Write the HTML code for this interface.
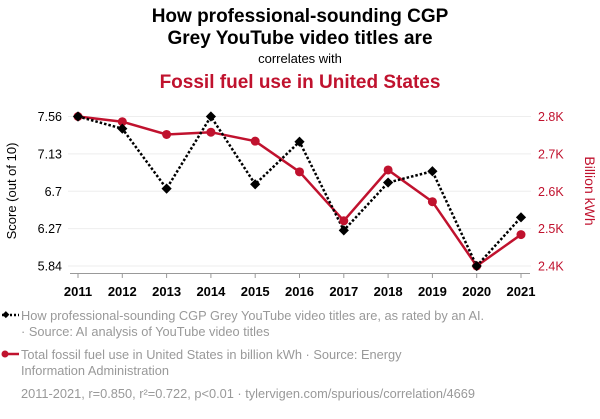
<!DOCTYPE html>
<html><head><meta charset="utf-8"><style>
body{margin:0;background:#fff;width:600px;height:414px;overflow:hidden;font-family:"Liberation Sans",sans-serif}
svg text{font-family:"Liberation Sans",sans-serif}
</style></head><body>
<svg id="chart" width="600" height="414" viewBox="0 0 600 414" xmlns="http://www.w3.org/2000/svg">
<text x="300" y="22" text-anchor="middle" font-size="19" font-weight="bold" fill="#000">How professional-sounding CGP</text>
<text x="300" y="44" text-anchor="middle" font-size="19" font-weight="bold" fill="#000">Grey YouTube video titles are</text>
<text x="300" y="63" text-anchor="middle" font-size="13" fill="#000">correlates with</text>
<text x="300" y="88" text-anchor="middle" font-size="19" font-weight="bold" fill="#c0122e">Fossil fuel use in United States</text>
<g id="grid"></g>
<g id="axes"></g>
<g id="series"></g>
<text transform="translate(16,191) rotate(-90)" text-anchor="middle" font-size="13" fill="#000">Score (out of 10)</text>
<text transform="translate(585,191) rotate(90)" text-anchor="middle" font-size="14" fill="#c0122e">Billion kWh</text>
<g>
<line x1="2" y1="315" x2="19" y2="315" stroke="#000" stroke-width="2.5" stroke-dasharray="2,2"/>
<rect x="3" y="312" width="5" height="5" transform="rotate(45 5.5 315)" fill="#000"/>
<text x="21" y="320" font-size="12.8" fill="#999">How professional-sounding CGP Grey YouTube video titles are, as rated by an AI.</text>
<text x="21" y="336" font-size="12.8" fill="#999">· Source: AI analysis of YouTube video titles</text>
</g>
<g>
<line x1="2" y1="354" x2="19" y2="354" stroke="#c0122e" stroke-width="2.5"/>
<circle cx="5" cy="354" r="3.5" fill="#c0122e"/>
<text x="21" y="359" font-size="12.8" fill="#999">Total fossil fuel use in United States in billion kWh · Source: Energy</text>
<text x="21" y="375" font-size="12.8" fill="#999">Information Administration</text>
</g>
<text x="21" y="398" font-size="12.8" fill="#999">2011-2021, r=0.850, r²=0.722, p&lt;0.01 · tylervigen.com/spurious/correlation/4669</text>
</svg>
<script>
const years=[2011,2012,2013,2014,2015,2016,2017,2018,2019,2020,2021];
const scores=[7.56,7.42,6.73,7.56,6.78,7.27,6.25,6.80,6.93,5.84,6.40];
const fossil=[2800,2786,2752,2758,2734,2652,2521,2657,2572,2400,2484];
const leftTicks=[5.84,6.27,6.7,7.13,7.56];
const rightTicks=[2400,2500,2600,2700,2800];
const rightTickLabels=["2.4K","2.5K","2.6K","2.7K","2.8K"];
const NS="http://www.w3.org/2000/svg";
const xS=y=>78+(y-2011)*(521-78)/10;
const yL=v=>266-(v-5.84)*(266-116.5)/(7.56-5.84);
const yR=v=>266-(v-2400)*(266-116.5)/400;
function mk(tag,attrs,parent){const e=document.createElementNS(NS,tag);for(const k in attrs)e.setAttribute(k,attrs[k]);parent.appendChild(e);return e;}
const grid=document.getElementById('grid'),axes=document.getElementById('axes'),ser=document.getElementById('series');
leftTicks.forEach((t,i)=>{
 const g=mk('line',{x1:68,x2:531,y1:yL(t),y2:yL(t),stroke:'#eee','stroke-width':1},grid);
 
 
 const tx=mk('text',{x:62,y:yL(t)+4.5,'text-anchor':'end','font-size':12.5,fill:'#000'},axes);
 tx.textContent=String(t);
 
 
});
rightTicks.forEach((t,i)=>{
 const tx=mk('text',{x:538,y:yR(t)+4.5,'font-size':12.5,fill:'#c0122e'},axes);
 tx.textContent=rightTickLabels[i];
 
 
});
const ax=mk('line',{x1:70,x2:530,y1:273.5,y2:273.5,stroke:'#999','stroke-width':1},axes);


years.forEach(y=>{
 const tk=mk('line',{x1:xS(y),x2:xS(y),y1:273.5,y2:278,stroke:'#999'},axes);
 
 
 const tx=mk('text',{x:xS(y),y:296,'text-anchor':'middle','font-size':13,'font-weight':'bold',fill:'#000'},axes);
 tx.textContent=y;
 
 
});
const fl=mk('polyline',{points:years.map((y,i)=>xS(y)+','+yR(fossil[i])).join(' '),fill:'none',stroke:'#c0122e','stroke-width':2.5},ser);


const sl=mk('polyline',{points:years.map((y,i)=>xS(y)+','+yL(scores[i])).join(' '),fill:'none',stroke:'#000','stroke-width':2.5,'stroke-dasharray':'2.5,2'},ser);


years.forEach((y,i)=>{
 const c=mk('circle',{cx:xS(y),cy:yR(fossil[i]),r:4.5,fill:'#c0122e'},ser);
 
 
});
years.forEach((y,i)=>{
 const cx=xS(y),cy=yL(scores[i]);
 const d=mk('rect',{x:cx-3.6,y:cy-3.6,width:7.2,height:7.2,fill:'#000',transform:`rotate(45 ${cx} ${cy})`},ser);
 
 
});
</script>
</body></html>
